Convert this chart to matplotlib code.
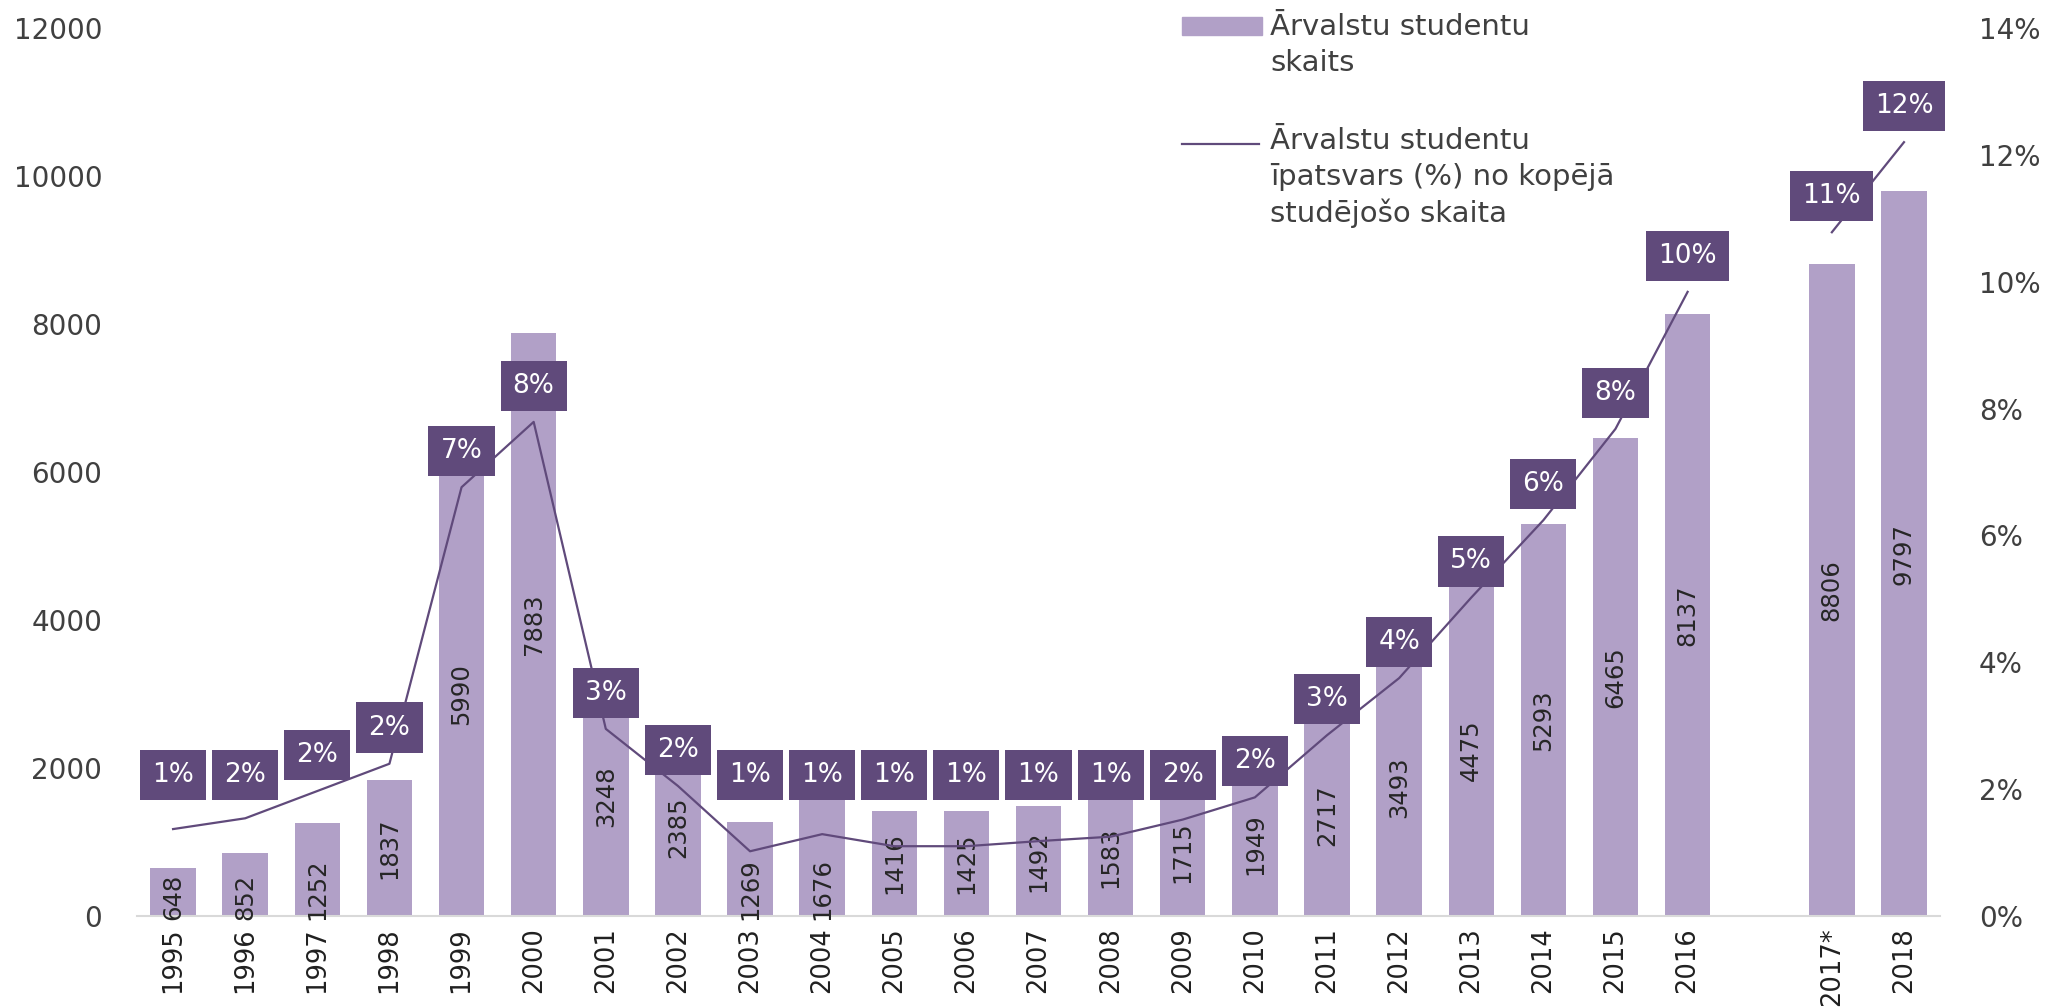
import matplotlib
matplotlib.use('Agg')
import matplotlib.pyplot as plt
import numpy as np
from matplotlib.patches import Rectangle
from matplotlib.lines import Line2D

plt.rcParams['font.family'] = ['DejaVu Sans']

# dati
years = ['1995', '1996', '1997', '1998', '1999', '2000', '2001', '2002', '2003',
         '2004', '2005', '2006', '2007', '2008', '2009', '2010', '2011', '2012',
         '2013', '2014', '2015', '2016', '', '2017*', '2018']
students = [648, 852, 1252, 1837, 5990, 7883, 3248, 2385, 1269, 1676, 1416, 1425,
            1492, 1583, 1715, 1949, 2717, 3493, 4475, 5293, 6465, 8137, None, 8806, 9797]
share = [1.37, 1.54, 1.97, 2.40, 6.76, 7.79, 2.95, 2.05, 1.02, 1.29, 1.10, 1.10,
         1.18, 1.25, 1.52, 1.87, 2.85, 3.75, 5.02, 6.24, 7.68, 9.84, None, 10.78, 12.20]

bar_label = 'Ārvalstu studentu\nskaits'
line_label = 'Ārvalstu studentu\nīpatsvars (%) no kopējā\nstudējošo skaita'

bar_col = '#B1A0C7'
dark = '#604A7B'
txt = '#404040'

x = np.arange(len(years))
cnt = np.array([np.nan if v is None else v for v in students], dtype=float)
pct = np.array([np.nan if v is None else v for v in share], dtype=float)

fig = plt.figure(figsize=(20.51, 10.08), dpi=100)
ax = fig.add_axes([0.0668, 0.0913, 0.8791, 0.8809])
ax2 = ax.twinx()

ax.bar(x, cnt, width=0.63, color=bar_col, zorder=2)
ax.set_xlim(-0.5, len(years) - 0.5)
ax.set_ylim(0, 12000)
ax.set_yticks(np.arange(0, 12001, 2000))
ax.set_xticks(x)
ax.set_xticklabels(years, rotation=90, fontsize=18.5, color='#202020')
ax.tick_params(axis='x', length=0, pad=8)
ax.tick_params(axis='y', length=0, pad=25, labelsize=20, labelcolor=txt)
for s in ['top', 'left', 'right']:
    ax.spines[s].set_visible(False)
ax.spines['bottom'].set_color('#D9D9D9')
ax.spines['bottom'].set_linewidth(1.5)

# vertikālie skaitļi stabiņos
base_labels = {'1995', '1996', '1997', '2003', '2004'}
for i, v in enumerate(cnt):
    if np.isnan(v):
        continue
    if years[i] in base_labels:
        ax.text(i, -50, '%d' % v, rotation=90, ha='center', va='bottom',
                fontsize=17.5, color='#262626', zorder=3)
    else:
        ax.text(i, v / 2, '%d' % v, rotation=90, ha='center', va='center',
                fontsize=17.5, color='#262626', zorder=3)

ax2.plot(x, pct, color=dark, lw=1.6, zorder=3)
ax2.set_ylim(0, 14)
ax2.set_yticks(np.arange(0, 15, 2))
ax2.set_yticklabels(['%d%%' % t for t in np.arange(0, 15, 2)])
ax2.tick_params(axis='y', length=0, pad=28, labelsize=20, labelcolor=txt)
for s in ['top', 'left', 'right', 'bottom']:
    ax2.spines[s].set_visible(False)

# procentu etiķetes
for i, p in enumerate(pct):
    if np.isnan(p):
        continue
    ly = max(p + 0.57, 2.22)
    ax2.text(i, ly, '%d%%' % round(p), ha='center', va='center', fontsize=19,
             color='white', zorder=5,
             bbox=dict(boxstyle='square,pad=0.46', fc=dark, ec='none'))

# leģenda
W, H = 2051.0, 1008.0
fig.add_artist(Rectangle((1182 / W, 1 - 35 / H), 80 / W, 18 / H,
                         transform=fig.transFigure, color=bar_col))
fig.text(1270 / W, 1 - 13 / H, bar_label, ha='left', va='top', fontsize=21,
         color=txt, linespacing=1.35)
fig.add_artist(Line2D([1182 / W, 1259 / W], [1 - 144 / H, 1 - 144 / H],
                      transform=fig.transFigure, color=dark, lw=1.6))
fig.text(1270 / W, 1 - 127 / H, line_label, ha='left', va='top', fontsize=21,
         color=txt, linespacing=1.35)

plt.savefig('out.png', dpi=100)
